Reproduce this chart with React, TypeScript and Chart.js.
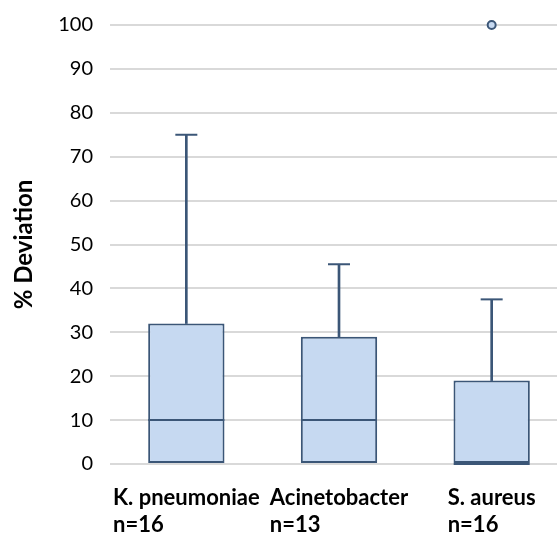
import React, { useEffect, useRef } from "react";
import { Chart, registerables } from "chart.js";

Chart.register(...registerables);

const categories = ["K. pneumoniae", "Acinetobacter", "S. aureus"];
const sampleSizes = ["n=16", "n=13", "n=16"];
const q1Values = [0, 0, 0];
const medianValues = [10, 10, 0];
const q3Values = [32, 29, 19];
const whiskerMax = [75, 45.5, 37.5];
const outlierValues: (number | null)[] = [null, null, 100];
const yMin = 0;
const yMax = 100;
const yStep = 10;
const yTitle = "% Deviation";

const FONT = "Lato, 'Open Sans', sans-serif";
const DARK = "#3b5677";
const FILL = "#c6d9f1";

const labelPlugin = {
  id: "multiLabels",
  afterDraw(chart: any) {
    const ctx = chart.ctx;
    const xs = chart.scales.x;
    const bottom = chart.chartArea.bottom;
    ctx.save();
    ctx.font = `bold 22px ${FONT}`;
    ctx.fillStyle = "#000";
    ctx.textAlign = "left";
    ctx.textBaseline = "alphabetic";
    categories.forEach((c, i) => {
      const lines = [c, sampleSizes[i]];
      const w = Math.max(...lines.map((l) => ctx.measureText(l).width));
      const x = xs.getPixelForValue(i) - w / 2;
      ctx.fillText(lines[0], x, bottom + 41);
      ctx.fillText(lines[1], x, bottom + 68);
    });
    ctx.restore();
  },
};

export default function App() {
  const ref = useRef<HTMLCanvasElement>(null);
  useEffect(() => {
    if (!ref.current) return;
    const chart = new Chart(ref.current, {
      type: "bar",
      data: {
        labels: categories,
        datasets: [
          {
            type: "bar",
            data: categories.map((_, i) => [q1Values[i], q3Values[i]]),
            backgroundColor: FILL,
            borderColor: DARK,
            borderWidth: 2,
            borderSkipped: false,
            barPercentage: 0.5,
            categoryPercentage: 1,
            grouped: false,
            order: 5,
          } as any,
          {
            type: "bar",
            data: categories.map((_, i) => [q3Values[i], whiskerMax[i]]),
            backgroundColor: DARK,
            borderWidth: 0,
            barThickness: 2,
            grouped: false,
            order: 4,
          } as any,
          {
            type: "line",
            data: medianValues,
            showLine: false,
            pointStyle: "line",
            pointRadius: 38,
            borderColor: DARK,
            borderWidth: 2,
            clip: false,
            order: 1,
          } as any,
          {
            type: "line",
            data: whiskerMax,
            showLine: false,
            pointStyle: "line",
            pointRadius: 11,
            borderColor: DARK,
            borderWidth: 2,
            clip: false,
            order: 1,
          } as any,
          {
            type: "line",
            data: outlierValues,
            showLine: false,
            pointStyle: "circle",
            pointRadius: 4,
            backgroundColor: FILL,
            borderColor: DARK,
            borderWidth: 2,
            clip: false,
            order: 0,
          } as any,
        ],
      },
      options: {
        animation: false,
        responsive: false,
        layout: { autoPadding: false, padding: { top: 0, left: 0, right: 0, bottom: 0 } },
        plugins: { legend: { display: false }, tooltip: { enabled: false } },
        scales: {
          x: {
            offset: true,
            grid: { display: false },
            border: { display: false },
            ticks: { display: false },
            afterFit(scale: any) {
              scale.height = 71;
            },
          },
          y: {
            min: yMin,
            max: yMax,
            grid: { color: "#d9d9d9", lineWidth: 2, drawTicks: false },
            border: { display: false },
            ticks: {
              stepSize: yStep,
              padding: 17,
              color: "#000",
              font: { family: FONT, size: 20, lineHeight: 0.8 },
            },
            title: {
              display: true,
              text: yTitle,
              color: "#000",
              font: { family: FONT, size: 24, weight: "bold" },
              padding: { top: 10, bottom: 0 },
            },
            afterFit(scale: any) {
              scale.width = 110;
            },
          },
        },
      },
      plugins: [labelPlugin],
    });
    return () => chart.destroy();
  }, []);
  return (
    <div style={{ position: "absolute", left: 0, top: 0, width: 557, height: 535, overflow: "hidden" }}>
      <canvas ref={ref} width={568} height={535} style={{ display: "block" }} />
    </div>
  );
}
